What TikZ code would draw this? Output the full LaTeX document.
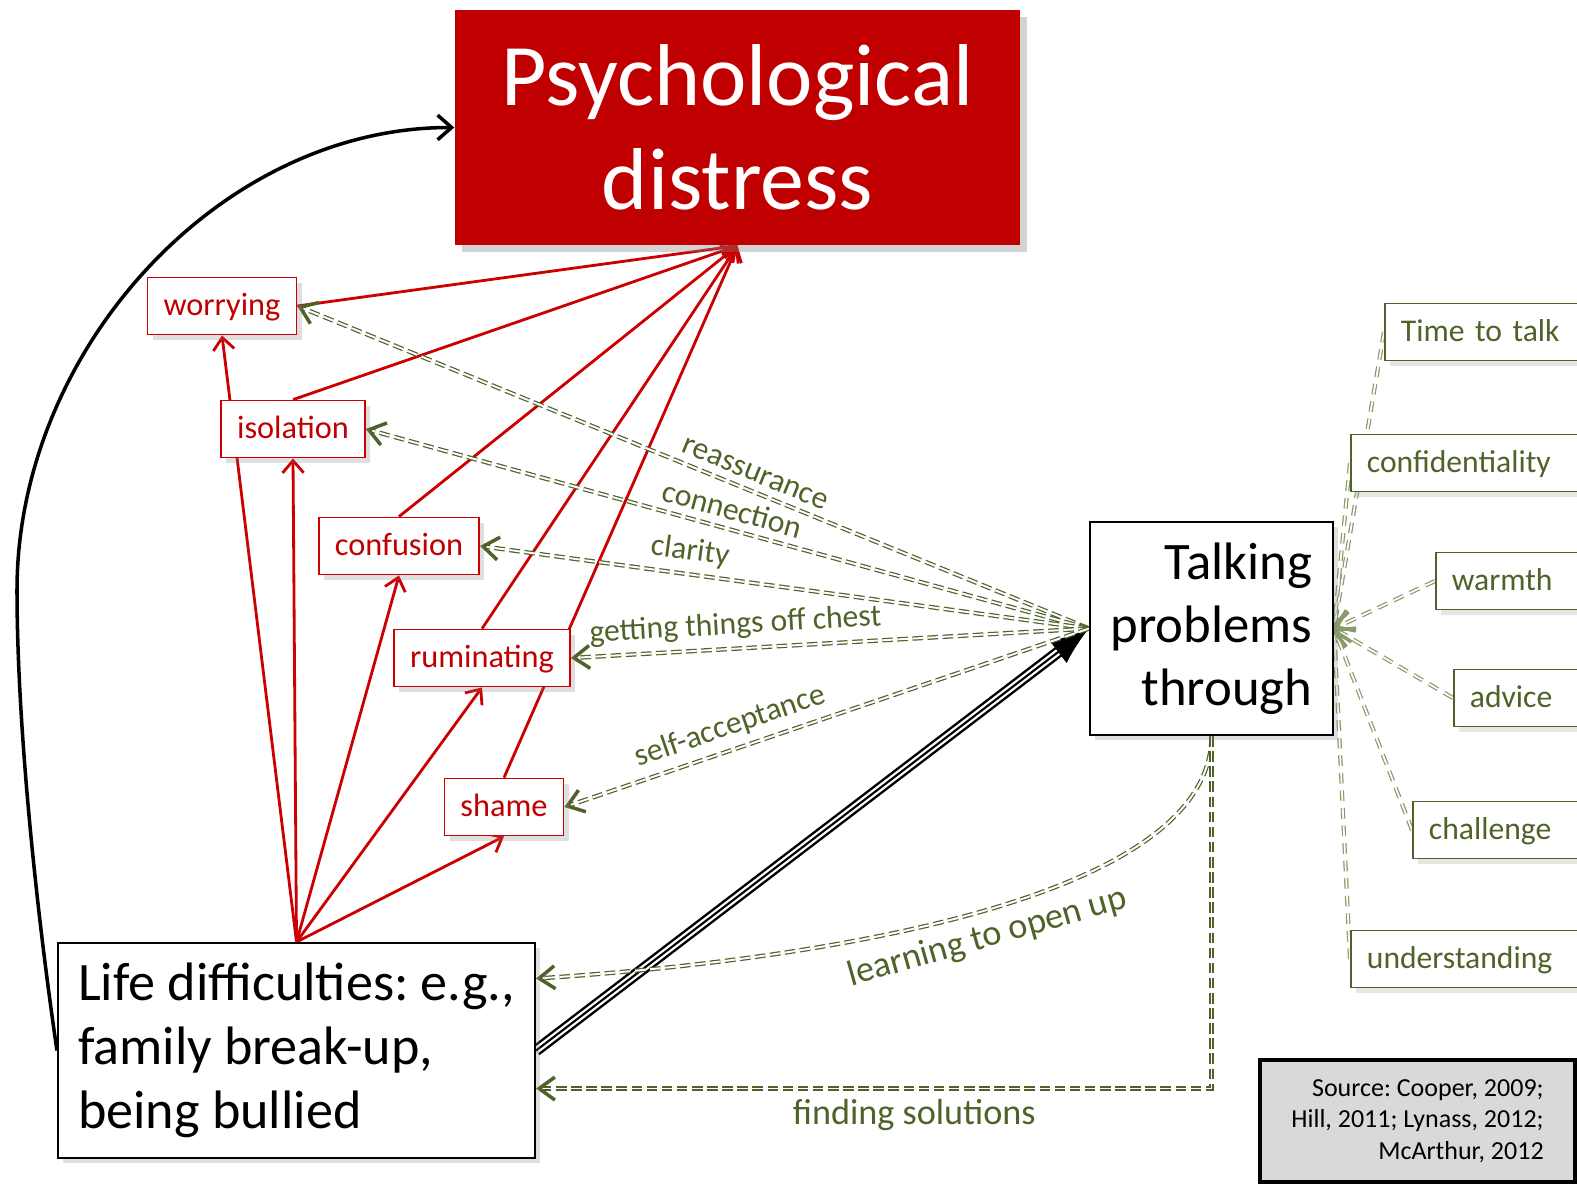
\documentclass[tikz,border=0pt]{standalone}
\usepackage{fontspec}
\setmainfont{Carlito}
\usetikzlibrary{arrows.meta, shadows, backgrounds}

\definecolor{distred}{HTML}{C00000}
\definecolor{linered}{HTML}{CC0000}
\definecolor{olive}{HTML}{4F6228}
\definecolor{paleolive}{HTML}{8A9A68}
\definecolor{sourcegray}{HTML}{D9D9D9}

\frenchspacing
\begin{document}
\begin{tikzpicture}
    \tikzstyle{distressbox} = [rectangle, fill=distred, text=white, minimum width=5.65cm, minimum height=2.35cm, align=center, font=\fontsize{25}{29.6}\selectfont, drop shadow={opacity=0.35, shadow xshift=2pt, shadow yshift=-2pt}]
    \tikzstyle{symptom} = [rectangle, draw=linered, line width=0.5pt, fill=white, text=distred, minimum height=0.54cm, inner xsep=0.16cm, text height=1.55ex, text depth=0.45ex, font=\fontsize{9.2}{11}\selectfont, drop shadow={opacity=0.25, shadow xshift=1.5pt, shadow yshift=-1.5pt}]
    \tikzstyle{lifebox} = [rectangle, draw=black, line width=0.6pt, fill=white, minimum width=4.77cm, minimum height=2.15cm, align=left, font=\fontsize{15.4}{18.2}\selectfont, drop shadow={opacity=0.25, shadow xshift=1.5pt, shadow yshift=-1.5pt}]
    \tikzstyle{talkbox} = [rectangle, draw=black, line width=0.6pt, fill=white, minimum width=2.43cm, minimum height=2.13cm, align=right, font=\fontsize{15}{17.9}\selectfont, drop shadow={opacity=0.25, shadow xshift=1.5pt, shadow yshift=-1.5pt}]
    \tikzstyle{quality} = [rectangle, anchor=west, draw=olive, line width=0.5pt, fill=white, text=olive, minimum height=0.53cm, inner xsep=0.16cm, align=left, text height=1.55ex, text depth=0.45ex, font=\fontsize{9}{11}\selectfont, drop shadow={opacity=0.2, shadow xshift=1.5pt, shadow yshift=-1.5pt}]
    \tikzstyle{sourcebox} = [rectangle, draw=black, line width=1.3pt, fill=sourcegray, minimum width=3.15cm, minimum height=1.22cm, align=right, font=\fontsize{7.4}{9}\selectfont]
    \tikzstyle{redarrow} = [draw=linered, line width=0.8pt, -{Straight Barb[length=3.5pt,width=6pt]}]
    \tikzstyle{curvearrow} = [draw=black, line width=1pt, -{Straight Barb[length=4pt,width=7pt]}]
    \tikzstyle{triplearrow} = [draw=black, line width=0.6pt, -{Latex[length=11pt,width=8pt]}, preaction={draw=black, line width=3.3pt, arrows=-, shorten >=8pt}, preaction={draw=white, line width=1.9pt, arrows=-, shorten >=8pt}]
    \tikzstyle{greenarrow} = [draw=olive, line width=0.35pt, double=white, double distance=0.55pt, dash pattern=on 3pt off 1.3pt, -{Straight Barb[length=4.5pt,width=6.5pt,line width=1pt]}]
    \tikzstyle{qualityline} = [draw=paleolive, line width=0.35pt, double=white, double distance=0.5pt, dash pattern=on 3pt off 2pt, -{Straight Barb[length=4.5pt,width=6.5pt,line width=1pt]}]
    \tikzstyle{greenlabel} = [text=olive, inner sep=2.5pt, font=\fontsize{9}{11}\selectfont]
    \tikzstyle{bottomlabel} = [text=olive, inner sep=3pt, font=\fontsize{10.3}{12}\selectfont]

    \useasboundingbox (0,0) rectangle (15.77,-11.83);
    \clip (0,0) rectangle (15.77,-11.83);

    % Outcome
    \node [distressbox] (distress) at (7.375,-1.275) {Psychological\\distress};

    % Symptoms
    \node [symptom] (worrying) at (2.22,-3.06) {worrying};
    \node [symptom] (isolation) at (2.93,-4.29) {isolation};
    \node [symptom] (confusion) at (3.99,-5.46) {confusion};
    \node [symptom] (ruminating) at (4.82,-6.58) {ruminating};
    \node [symptom] (shame) at (5.04,-8.07) {shame};

    % Cause and help
    \node [lifebox] (life) at (2.965,-10.505) {Life difficulties: e.g.,\\family break-up,\\being bullied};
    \node [talkbox] (talk) at (12.115,-6.285) {Talking\\problems\\through};

    % What helps the talking
    \node [quality, text width=1.84cm] (time) at (13.84,-3.32) {Time to talk};
    \node [quality, text width=2.18cm] (confidentiality) at (13.50,-4.63) {confidentiality};
    \node [quality, text width=1.33cm] (warmth) at (14.35,-5.81) {warmth};
    \node [quality, text width=1.15cm] (advice) at (14.53,-6.98) {advice};
    \node [quality, text width=1.56cm] (challenge) at (14.12,-8.30) {challenge};
    \node [quality, text width=2.18cm] (understanding) at (13.50,-9.59) {understanding};

    % Reference
    \node [sourcebox] (source) at (14.175,-11.21) {Source: Cooper, 2009;\\Hill, 2011; Lynass,\ 2012;\\McArthur, 2012};

    \coordinate (bend) at (0.17,-5.9);

    \begin{pgfonlayer}{background}
    % Life difficulties lead to symptoms
    \draw [redarrow] (life.north) -- (worrying.south);
    \draw [redarrow] (life.north) -- (isolation.south);
    \draw [redarrow] (life.north) -- (confusion.south);
    \draw [redarrow] (life.north) -- (ruminating.south);
    \draw [redarrow] (life.north) -- (shame.south);

    % Symptoms lead to distress
    \draw [redarrow] (worrying.east) -- (distress.south);
    \draw [redarrow] (isolation.north) -- (distress.south);
    \draw [redarrow] (confusion.north) -- (distress.south);
    \draw [redarrow] (ruminating.north) -- (distress.south);
    \draw [redarrow] (shame.north) -- (distress.south);

    % Direct path
    \draw [curvearrow] (life.west) .. controls (0.35,-9.0) and (0.17,-7.2) .. (bend) .. controls (0.17,-3.5) and (2.2,-1.27) .. (distress.west);

    % Seeking help
    \draw [triplearrow] (life.east) -- (talk.west);

    % What talking gives back
    \draw [greenarrow] (talk.west) -- node [greenlabel, pos=0.43, sloped, above] {reassurance} (worrying.east);
    \draw [greenarrow] (talk.west) -- node [greenlabel, pos=0.5, sloped, above] {connection} (isolation.east);
    \draw [greenarrow] (talk.west) -- node [greenlabel, pos=0.66, sloped, above] {clarity} (confusion.east);
    \draw [greenarrow] (talk.west) -- node [greenlabel, pos=0.68, sloped, above] {getting things off chest} (ruminating.east);
    \draw [greenarrow] (talk.west) -- node [greenlabel, pos=0.67, sloped, above] {self-acceptance} (shame.east);
    \draw [greenarrow] (talk.south) .. controls (12.11,-9.0) and (8.2,-9.6) .. node [bottomlabel, pos=0.5, sloped, below] {learning to open up} ([yshift=0.72cm]life.east);
    \draw [greenarrow] (talk.south) |- node [bottomlabel, pos=0.72, below] {finding solutions} ([yshift=-0.38cm]life.east);

    % Qualities of the talking
    \draw [qualityline] (time.west) -- (talk.east);
    \draw [qualityline] (confidentiality.west) -- (talk.east);
    \draw [qualityline] (warmth.west) -- (talk.east);
    \draw [qualityline] (advice.west) -- (talk.east);
    \draw [qualityline] (challenge.west) -- (talk.east);
    \draw [qualityline] (understanding.west) -- (talk.east);
    \end{pgfonlayer}
\end{tikzpicture}
\end{document}
